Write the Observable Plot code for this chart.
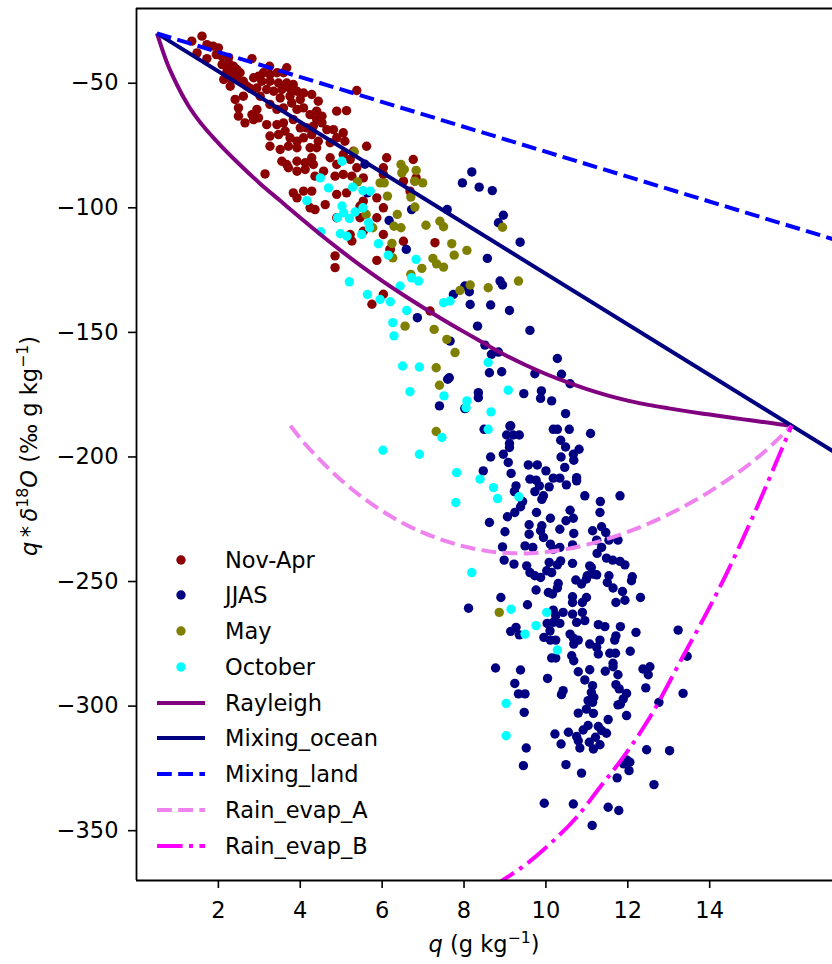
<!DOCTYPE html>
<html><head><meta charset="utf-8">
<script src="https://cdn.jsdelivr.net/npm/d3@7"></script>
<script src="https://cdn.jsdelivr.net/npm/@observablehq/plot@0.6"></script>
<style>
html,body{margin:0;padding:0;background:#fff;}
#wrap{position:relative;width:832px;height:964px;overflow:hidden;font-family:"DejaVu Sans",sans-serif;}
.row{position:absolute;left:150px;height:36px;display:flex;align-items:center;font-size:22.5px;white-space:nowrap;color:#000;}
.row svg{display:block;margin-right:19px;}
</style></head><body><div id="wrap"></div>
<script>
// ---- data: [q (g/kg), q*d18O] ----
const novApr = [[1.35,-33.1],[1.60,-31.1],[1.72,-34.5],[1.87,-35.1],[2.00,-35.8],[1.48,-37.8],[1.72,-40.1],[1.95,-38.5],[2.09,-39.2],[2.25,-39.6],[2.82,-40.1],[2.09,-42.5],[2.25,-41.8],[2.37,-43.2],[2.45,-44.5],[2.21,-45.2],[2.33,-45.8],[2.53,-45.8],[3.25,-43.2],[3.67,-43.8],[2.13,-48.5],[2.29,-47.8],[2.45,-47.8],[2.61,-49.2],[2.86,-47.8],[2.98,-47.2],[3.10,-45.8],[3.26,-46.5],[3.43,-45.8],[3.59,-45.8],[3.06,-49.2],[3.26,-49.2],[3.47,-49.9],[3.67,-49.9],[3.83,-50.5],[2.70,-51.2],[2.29,-51.2],[2.41,-56.5],[2.78,-52.1],[2.94,-51.9],[3.18,-52.5],[3.35,-53.2],[3.55,-52.5],[3.75,-52.1],[3.92,-53.2],[4.08,-53.9],[2.61,-55.2],[3.02,-55.2],[3.51,-55.9],[3.75,-55.2],[4.00,-56.5],[4.28,-54.5],[4.44,-57.2],[5.38,-52.9],[2.49,-59.9],[2.94,-60.5],[3.26,-58.5],[3.43,-60.5],[3.59,-59.9],[3.79,-57.9],[3.92,-60.5],[4.08,-59.9],[4.24,-62.6],[4.40,-61.2],[4.53,-63.2],[4.89,-61.2],[5.13,-61.0],[2.49,-63.2],[2.82,-62.6],[2.65,-65.9],[2.86,-64.6],[2.98,-63.9],[3.18,-66.6],[3.43,-66.6],[3.59,-65.9],[3.83,-64.6],[4.00,-67.9],[4.16,-67.9],[4.32,-67.2],[4.53,-65.9],[4.65,-68.6],[4.81,-68.6],[5.05,-69.9],[4.40,-64.6],[3.26,-71.2],[3.47,-70.6],[3.63,-69.2],[3.75,-71.9],[3.92,-73.3],[4.08,-71.9],[4.28,-70.6],[4.44,-73.3],[4.73,-73.9],[4.89,-71.9],[5.09,-73.3],[3.26,-75.3],[3.51,-76.6],[3.71,-75.3],[3.92,-75.9],[4.24,-75.9],[4.40,-75.9],[5.30,-77.3],[5.62,-75.3],[5.05,-78.6],[3.55,-81.3],[3.67,-82.6],[3.92,-81.3],[4.12,-81.9],[4.28,-79.9],[4.32,-82.6],[4.73,-79.9],[4.89,-82.6],[5.22,-80.6],[5.38,-83.9],[6.11,-79.9],[6.76,-80.6],[6.03,-83.9],[3.14,-86.4],[3.71,-83.9],[3.92,-85.3],[4.12,-84.6],[4.36,-87.3],[4.57,-85.3],[4.85,-87.3],[5.05,-86.6],[5.26,-87.3],[5.54,-88.0],[6.03,-86.6],[6.52,-89.3],[6.80,-89.3],[3.83,-94.0],[4.08,-93.3],[4.28,-93.3],[3.92,-96.0],[4.24,-100.0],[4.36,-100.7],[4.61,-98.7],[4.89,-94.6],[5.54,-97.3],[5.87,-96.0],[6.03,-100.0],[5.46,-99.3],[5.13,-94.0],[4.89,-104.0],[5.46,-104.0],[5.87,-104.0],[6.03,-110.7],[5.22,-110.7],[5.54,-109.4],[6.52,-113.4],[7.29,-114.0],[6.19,-116.7],[4.85,-119.3],[4.85,-124.0],[5.87,-121.1],[6.20,-116.7],[6.03,-134.7],[5.75,-138.7],[7.17,-141.4],[5.26,-113.3],[6.83,-88.0],[6.68,-93.3]];

const jjas = [[8.19,-85.6],[7.96,-90.0],[8.37,-91.7],[8.69,-93.1],[8.96,-103.0],[8.84,-106.0],[9.37,-113.8],[7.59,-100.7],[6.17,-105.1],[6.59,-116.7],[8.57,-120.3],[8.02,-131.4],[8.13,-133.7],[7.74,-134.8],[8.88,-129.4],[8.94,-131.0],[8.15,-138.8],[8.65,-139.0],[9.11,-141.2],[8.33,-147.5],[6.86,-144.1],[9.61,-149.2],[5.64,-94.0],[6.72,-100.7],[5.58,-82.5],
[7.66,-153.5],[8.51,-155.1],[8.67,-158.8],[8.84,-157.9],[10.28,-160.5],[8.62,-166.2],[8.92,-165.8],[9.73,-166.6],[10.38,-166.8],[10.59,-170.6],[7.60,-168.8],[7.64,-168.2],[8.35,-174.2],[8.35,-176.2],[9.46,-174.6],[9.89,-173.5],[9.87,-176.5],[10.14,-177.5],[7.40,-179.5],[8.02,-180.6],[10.48,-182.6],[8.49,-188.9],[9.12,-187.6],[9.04,-191.2],[9.20,-191.2],[9.35,-191.2],[10.18,-188.9],[10.28,-188.9],[10.57,-188.9],[11.09,-190.6],[10.36,-193.3],[9.11,-194.6],[9.11,-196.2],[10.48,-196.0],[10.81,-196.9],
[8.03,-180.4],[9.14,-187.5],[10.67,-198.9],[10.68,-201.3],[8.65,-200.0],[8.96,-198.9],[9.08,-202.2],[10.37,-200.0],[8.47,-205.6],[9.15,-206.6],[9.57,-203.2],[9.79,-203.2],[10.00,-205.6],[10.46,-204.2],[9.61,-208.9],[9.76,-209.3],[10.18,-208.5],[10.34,-208.5],[10.75,-208.3],[10.75,-209.6],[9.27,-211.6],[9.84,-211.6],[10.08,-212.0],[10.50,-211.2],[9.23,-213.9],[9.73,-213.9],[9.94,-215.6],[9.90,-217.0],[10.95,-215.6],[11.81,-215.6],[11.33,-217.9],[9.43,-217.9],[9.38,-220.0],[9.77,-222.3],[9.24,-222.3],[9.06,-224.0],[10.59,-221.4],[11.32,-222.3],[8.62,-226.3],[9.00,-230.0],[9.59,-227.2],[9.90,-227.6],[10.11,-224.6],[10.34,-229.0],[10.49,-225.6],[10.67,-224.6],[9.59,-231.0],[9.87,-229.6],[9.94,-232.3],[10.68,-230.7],[11.14,-229.6],[11.36,-228.0],[11.46,-230.3],[11.24,-233.4],[11.36,-236.3],[11.25,-238.7],[11.54,-233.4],[11.76,-233.4],[8.94,-236.1],[9.49,-235.7],[9.68,-236.3],[10.11,-235.0],[10.18,-237.0],[10.34,-236.3],[10.65,-235.3],[8.98,-241.4],[9.22,-243.0],[9.53,-243.7],[10.08,-242.3],[10.28,-243.3],[10.36,-241.7],[10.65,-242.7],[11.07,-243.7],[11.11,-244.4],[11.01,-247.7],[11.15,-247.0],[11.24,-247.3],[11.48,-240.6],[11.63,-241.4],[11.81,-241.9],[11.93,-243.3],[9.61,-246.4],[9.73,-247.7],[9.87,-248.4],[10.02,-245.7],[10.14,-246.4],[10.73,-249.4],[10.87,-251.0],[10.99,-249.0],[11.54,-247.7],[11.50,-250.4],[12.11,-248.1],[12.09,-249.7],[10.30,-250.8],[10.28,-252.6],[11.64,-252.6],[11.87,-254.0],[9.76,-253.4],[10.06,-254.4],[10.16,-255.0],[10.65,-256.1],[10.65,-258.4],[10.89,-258.4],[10.99,-256.4],[8.90,-256.4],[9.55,-259.3],[12.31,-256.4],[11.71,-258.4],[11.93,-257.5],[8.11,-260.7],[10.18,-261.5],[10.24,-263.7],[10.42,-262.4],[10.65,-263.1],[10.89,-262.4],[10.18,-266.4],[10.34,-266.8],[10.75,-266.4],[10.95,-265.7],[11.28,-267.3],[11.44,-268.1],[11.82,-268.1],[9.14,-270.0],[9.27,-268.4],[9.35,-271.4],[10.03,-266.8],[10.10,-269.8],[9.95,-272.4],[10.11,-273.5],[10.24,-273.5],[10.59,-271.1],[10.67,-272.7],[10.68,-275.1],[10.79,-273.5],[11.07,-275.1],[11.24,-276.4],[11.32,-273.5],[11.71,-271.8],[11.68,-273.5],[12.20,-270.4],[13.23,-269.5],
[10.14,-280.7],[10.24,-280.7],[10.63,-279.8],[10.68,-281.8],[11.28,-279.1],[11.56,-278.8],[11.70,-278.8],[12.06,-278.0],[13.45,-280.0],[8.77,-284.7],[9.38,-285.5],[10.79,-286.2],[11.07,-285.4],[11.45,-286.0],[11.64,-284.2],[11.64,-282.8],[11.76,-287.4],[12.37,-285.1],[12.54,-284.2],[12.50,-287.4],[9.24,-290.9],[10.04,-288.9],[10.95,-289.5],[11.14,-291.8],[11.71,-291.4],[11.79,-293.1],[12.44,-292.7],[13.35,-294.9],[9.33,-295.1],[9.49,-295.1],[10.42,-293.8],[10.38,-295.4],[11.11,-294.5],[11.17,-296.5],[11.97,-294.9],[11.89,-297.1],[11.03,-297.8],[11.14,-298.5],[12.76,-298.5],[11.76,-299.5],[11.82,-299.2],[9.47,-302.5],[10.79,-302.8],[11.16,-302.9],[10.99,-301.2],[11.97,-303.8],[11.52,-305.4],[11.03,-307.8],[10.91,-309.6],[11.28,-308.2],[11.36,-309.8],[11.48,-310.9],[10.22,-311.2],[10.55,-310.5],[10.75,-312.2],[10.79,-313.9],[10.83,-316.8],[11.06,-314.5],[11.21,-312.5],[11.32,-315.5],[11.16,-317.2],[10.37,-315.2],[9.52,-316.8],[12.46,-317.5],[13.02,-317.9],[9.45,-323.9],[10.49,-323.5],[10.87,-326.9],[11.97,-321.6],[12.05,-322.5],[11.90,-323.2],[12.03,-325.9],[11.74,-328.8],[12.64,-331.5],[9.96,-339.0],[10.67,-339.3],[11.52,-340.6],[11.78,-341.9],[11.13,-347.9]];

const may = [[5.32,-77.5],[5.40,-89.6],[5.95,-90.0],[6.05,-90.0],[6.13,-95.3],[6.46,-82.6],[6.54,-84.6],[6.48,-86.0],[6.83,-85.0],[6.80,-89.3],[6.99,-90.0],[6.70,-95.7],[6.80,-99.7],[5.61,-102.7],[6.37,-102.7],[6.29,-107.4],[6.46,-108.0],[5.77,-108.0],[7.07,-107.0],[7.41,-105.4],[7.50,-107.6],[6.24,-114.3],[7.70,-114.4],[8.07,-117.1],[7.76,-119.0],[6.26,-120.1],[6.97,-124.3],[7.24,-120.3],[7.33,-122.5],[7.50,-123.8],[6.70,-126.7],[7.90,-133.2],[8.15,-131.0],[8.59,-132.1],[9.33,-129.4],[8.94,-107.8],[6.56,-147.5],[7.27,-148.8],[7.58,-152.8],[7.78,-158.1],[7.32,-164.2],[7.40,-171.2],[7.32,-189.8],[8.86,-262.4]];

const october = [[5.02,-81.3],[4.49,-88.0],[4.69,-92.0],[5.28,-91.7],[5.53,-93.1],[5.71,-93.3],[4.16,-97.1],[5.02,-99.3],[5.06,-102.0],[4.91,-104.0],[5.20,-104.3],[5.34,-101.7],[5.53,-100.0],[5.67,-106.0],[5.69,-108.0],[5.50,-110.7],[5.14,-111.4],[4.98,-110.4],[4.50,-109.6],[5.91,-114.4],[6.15,-119.0],[6.83,-120.7],[6.72,-128.1],[6.89,-129.4],[5.20,-129.7],[5.64,-134.8],[5.95,-136.8],[6.20,-137.7],[6.44,-131.4],[6.60,-141.2],[7.50,-138.1],[7.66,-137.4],[6.26,-146.1],[6.29,-151.4],[6.50,-163.5],[6.91,-163.9],[6.68,-173.8],[7.51,-175.5],[8.07,-177.5],[8.05,-180.2],[8.66,-181.9],[8.59,-162.1],[8.59,-188.9],[7.46,-192.2],[6.02,-197.3],[6.91,-198.9],[7.82,-206.3],[8.39,-208.9],[8.72,-212.3],[7.80,-218.3],[9.08,-173.2],[8.82,-216.7],[9.34,-216.0],[8.19,-246.4],[9.15,-261.1],[10.02,-262.4],[9.76,-267.7],[9.49,-271.1],[10.28,-277.5],[9.03,-298.9],[9.03,-311.9]];

const rayleigh = [[0.5,-30],[0.75,-42],[1.0,-51],[1.25,-58.5],[1.5,-64.5],[2.0,-74],[2.5,-82.3],[3.0,-90],[3.5,-97],[4.0,-104],[4.5,-110.8],[5.0,-117.3],[5.5,-123.5],[6.0,-129.3],[6.5,-134.8],[7.0,-140],[7.5,-145],[8.0,-149.8],[8.5,-154.5],[9.0,-159.1],[9.5,-163.1],[10.0,-166.7],[10.5,-169.9],[11.0,-172.8],[11.5,-175.3],[12.0,-177.4],[12.5,-179.1],[13.0,-180.5],[13.5,-181.8],[14.0,-183.0],[14.5,-184.2],[15.0,-185.3],[15.5,-186.4],[16.0,-187.5]];
const mixingOcean = [[0.5,-30],[17.5,-202.7]];
const mixingLand = [[0.5,-30],[17.5,-115]];
const rainEvapA = [[3.76,-187.5],[4.0,-192.5],[4.5,-201.5],[5.0,-209.3],[5.5,-216],[6.0,-221.7],[6.5,-226.5],[7.0,-230.4],[7.5,-233.5],[8.0,-235.9],[8.5,-237.6],[9.0,-238.5],[9.5,-238.7],[10.0,-238.2],[10.5,-237],[11.0,-235.2],[11.5,-232.9],[12.0,-230.1],[12.5,-226.8],[13.0,-223],[13.5,-218.7],[14.0,-213.9],[14.5,-208.5],[15.0,-202.5],[15.5,-195.5],[16.0,-187.5]];
const rainEvapB = [[8.7,-372.6],[9.0,-369.3],[9.53,-363.3],[10.1,-355.3],[10.75,-344.6],[11.32,-332.6],[11.89,-320.5],[12.54,-304.5],[13.35,-280],[14.08,-257.7],[14.5,-243.8],[15.0,-226],[15.5,-207],[16.0,-187.5]];

const xTicks = [2,4,6,8,10,12,14];
const yTicks = [-50,-100,-150,-200,-250,-300,-350];
const legendNames = ["Nov-Apr","JJAS","May","October","Rayleigh","Mixing_ocean","Mixing_land","Rain_evap_A","Rain_evap_B"];

// ---- styles ----
const dotStyles = [
  {data: novApr, fill: "#8B0000"},
  {data: jjas, fill: "#000080"},
  {data: may, fill: "#808000"},
  {data: october, fill: "#00FFFF"}
];
const LW = 4;
const lineStyles = [
  {data: rayleigh, stroke: "#800080", dash: null},
  {data: mixingOcean, stroke: "#000080", dash: null},
  {data: mixingLand, stroke: "#0000FF", dash: "14.8,6.4"},
  {data: rainEvapA, stroke: "#EE82EE", dash: "14.8,6.4"},
  {data: rainEvapB, stroke: "#FF00FF", dash: "25.6,6.4,4,6.4"}
];
const FS = 22.5;
const minus = d => (d < 0 ? "\u2212" : "") + Math.abs(d);

const marks = [];
for (const s of dotStyles) {
  marks.push(Plot.dot(s.data, {x: d => d[0], y: d => d[1], r: 4.7, fill: s.fill, stroke: "none"}));
}
for (const s of lineStyles) {
  marks.push(Plot.line(s.data, {x: d => d[0], y: d => d[1], stroke: s.stroke, strokeWidth: LW,
    strokeDasharray: s.dash || undefined, strokeLinecap: "butt", curve: "monotone-x", clip: true}));
}
marks.push(Plot.ruleX([0], {stroke: "black", strokeWidth: 1.8}));
marks.push(Plot.ruleY([-370, -20], {stroke: "black", strokeWidth: 1.8}));
marks.push(Plot.axisX({ticks: xTicks, tickSize: 8, tickPadding: 14, tickFormat: d => String(d), label: null, strokeWidth: 1.6}));
marks.push(Plot.axisY({ticks: yTicks, tickSize: 8, tickPadding: 10, tickFormat: minus, label: null, strokeWidth: 1.6}));

const chart = Plot.plot({
  width: 832, height: 964,
  marginLeft: 136, marginRight: 0, marginTop: 8, marginBottom: 84,
  x: {domain: [0, 17], range: [136, 832]},
  y: {domain: [-370, -20]},
  style: {fontFamily: "DejaVu Sans, sans-serif", fontSize: FS + "px", color: "black", background: "white"},
  marks
});
const wrap = document.getElementById("wrap");
wrap.appendChild(chart);

// axis titles
const svg = d3.select(chart);
const xl = svg.append("text").attr("x", 484).attr("y", 952).attr("text-anchor", "middle")
  .attr("font-size", FS).attr("fill", "black");
xl.append("tspan").attr("font-style", "italic").text("q");
xl.append("tspan").text(" (g kg");
xl.append("tspan").attr("font-size", FS * 0.7).attr("dy", -9).text("\u22121");
xl.append("tspan").attr("dy", 9).text(")");

const yl = svg.append("text").attr("transform", "translate(37,446) rotate(-90)").attr("text-anchor", "middle")
  .attr("font-size", FS).attr("fill", "black");
yl.append("tspan").attr("font-style", "italic").text("q");
yl.append("tspan").text("\u2009*\u2009");
yl.append("tspan").attr("font-style", "italic").text("\u03B4");
yl.append("tspan").attr("font-size", FS * 0.7).attr("dy", -9).text("18");
yl.append("tspan").attr("font-style", "italic").attr("dy", 9).text("O");
yl.append("tspan").text(" (\u2030 g kg");
yl.append("tspan").attr("font-size", FS * 0.7).attr("dy", -9).text("\u22121");
yl.append("tspan").attr("dy", 9).text(")");

// legend (inside axes)
const legendStyles = [
  {type: "dot", color: "#8B0000"}, {type: "dot", color: "#000080"}, {type: "dot", color: "#808000"}, {type: "dot", color: "#00FFFF"},
  {type: "line", color: "#800080", dash: null}, {type: "line", color: "#000080", dash: null},
  {type: "line", color: "#0000FF", dash: "14.8,6.4"}, {type: "line", color: "#EE82EE", dash: "14.8,6.4"},
  {type: "line", color: "#FF00FF", dash: "25.6,6.4,4,6.4"}
];
legendNames.forEach((name, i) => {
  const row = document.createElement("div");
  row.className = "row";
  row.style.top = (559.5 + i * 35.75 - 18) + "px";
  const st = legendStyles[i];
  const inner = st.type === "dot"
    ? `<circle cx="31" cy="18" r="4.7" fill="${st.color}"/>`
    : `<line x1="7" x2="55" y1="18" y2="18" stroke="${st.color}" stroke-width="${LW}" ${st.dash ? `stroke-dasharray="${st.dash}"` : ""}/>`;
  row.innerHTML = `<svg width="56" height="36">${inner}</svg><span>${name}</span>`;
  wrap.appendChild(row);
});
</script></body></html>
